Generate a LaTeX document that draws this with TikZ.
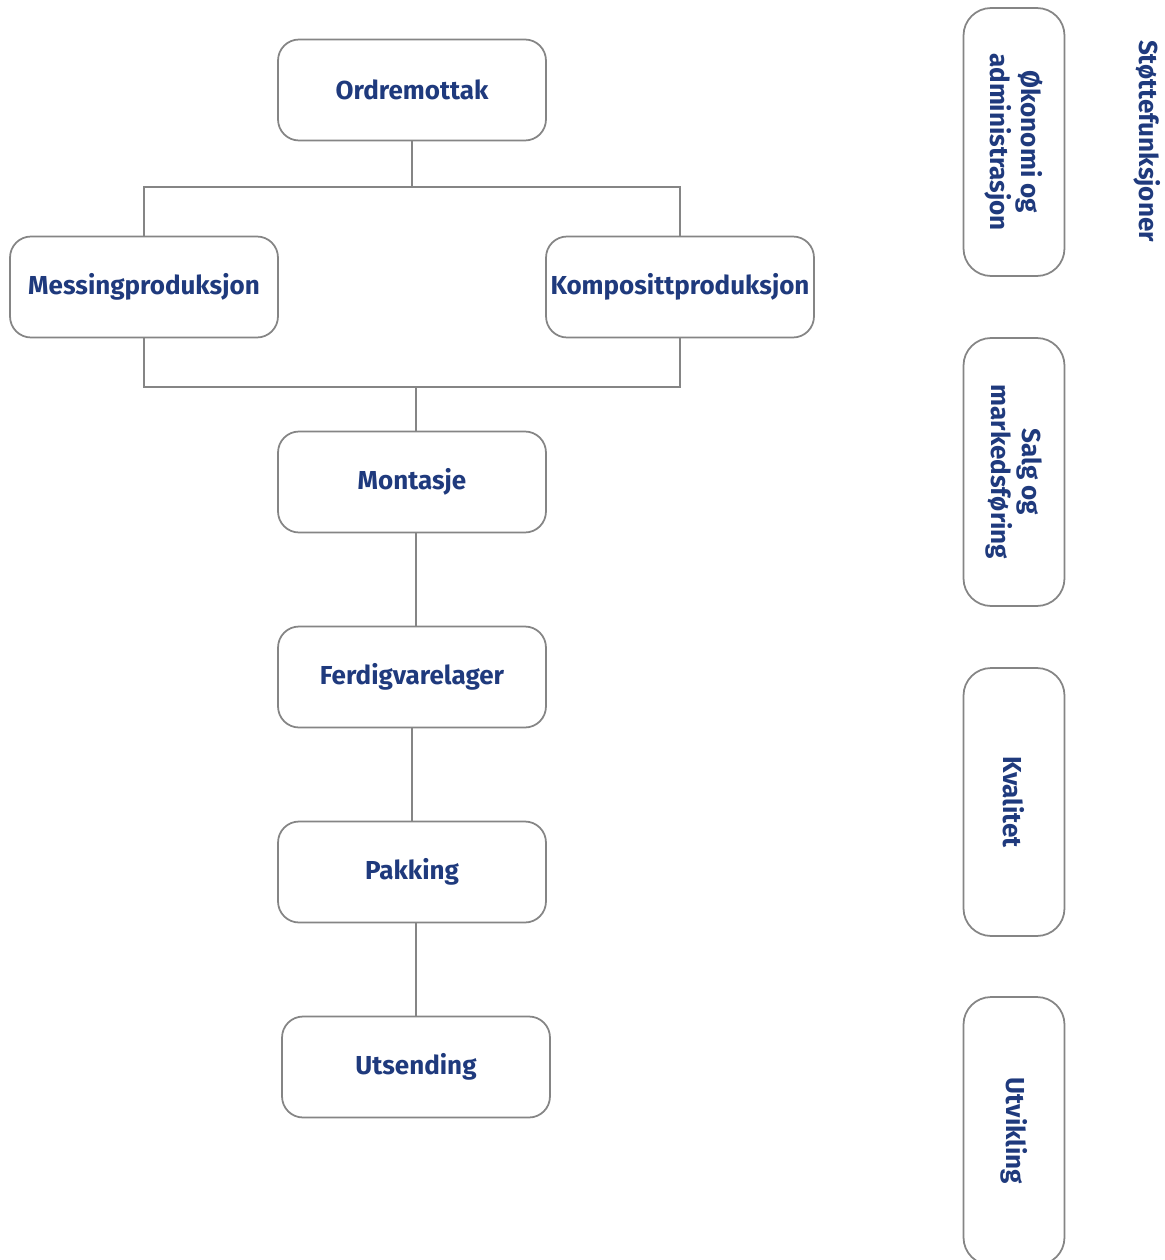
\documentclass[tikz,border=0pt]{standalone}
\usepackage{fontspec}
\setmainfont{Fira Sans}
\definecolor{textblue}{HTML}{1F3A7D}
\definecolor{linegray}{HTML}{858585}
\begin{document}
\begin{tikzpicture}[x=0.02cm,y=-0.02cm,line width=1pt,
    procbox/.style={draw=linegray, rectangle, rounded corners=0.42cm, fill=white,
        minimum width=5.36cm, minimum height=2.02cm, inner sep=0pt,
        text=textblue, font=\fontsize{14.8}{18}\selectfont\bfseries},
    supportbox/.style={procbox, rotate=-90, rounded corners=0.55cm,
        minimum width=5.36cm, minimum height=2.02cm, align=center,
        font=\fontsize{14.8}{18}\selectfont\bfseries},
    link/.style={draw=linegray}]
    \useasboundingbox (0,0) rectangle (1165,1260);
    % main flow
    \node (ordre) [procbox] at (412,90) {Ordremottak};
    \node (messing) [procbox] at (144,287) {Messingproduksjon};
    \node (kompositt) [procbox] at (680,287) {Komposittproduksjon};
    \node (montasje) [procbox] at (412,482) {Montasje};
    \node (lager) [procbox] at (412,677) {Ferdigvarelager};
    \node (pakking) [procbox] at (412,872) {Pakking};
    \node (utsending) [procbox] at (416,1067) {Utsending};
    \coordinate (split) at (412,187);
    \coordinate (merge) at (416,387);

    \draw[link] (ordre) -- (split);
    \draw[link] (messing.north) |- (split) -| (kompositt.north);
    \draw[link] (messing.south) |- (merge) -| (kompositt.south);
    \draw[link] (merge) -- (merge |- montasje.north);
    \draw[link] (merge |- montasje.south) -- (merge |- lager.north);
    \draw[link] (lager) -- (pakking);
    \draw[link] (merge |- pakking.south) -- (utsending);

    % support functions
    \node (okonomi) [supportbox] at (1014,142) {Økonomi og\\administrasjon};
    \node (salg) [supportbox] at (1014,472) {Salg og\\markedsføring};
    \node (kvalitet) [supportbox] at (1014,802) {Kvalitet};
    \node (utvikling) [supportbox] at (1014,1131) {Utvikling};
    \node (stotte) [rotate=-90, text=textblue, font=\fontsize{14.8}{18}\selectfont\bfseries]
        at (1147,141) {Støttefunksjoner};
\end{tikzpicture}
\end{document}
